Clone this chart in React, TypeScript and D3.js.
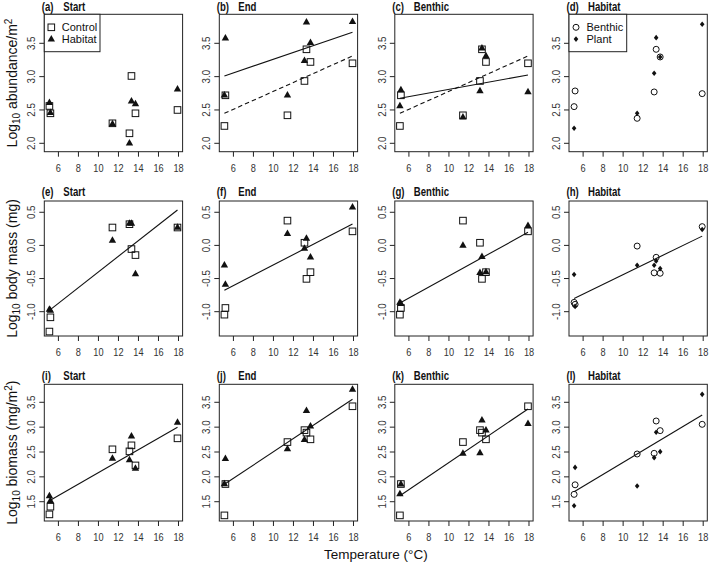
import React from 'react';
import * as d3 from 'd3';

// ---------- data ----------
const temps = [5.1, 5.2, 11.4, 13.1, 13.3, 13.7, 17.9];
const xTicks = [6, 8, 10, 12, 14, 16, 18];
const yTicksAbund = [2.0, 2.5, 3.0, 3.5];
const yTicksMass = [-1.0, -0.5, 0.0, 0.5];
const yTicksBio = [1.5, 2.0, 2.5, 3.0, 3.5];

// abundance (row 1)
const abStartControl = [2.56, 2.45, 2.30, 2.15, 3.01, 2.45, 2.50];
const abStartHabitat = [2.61, 2.46, 2.29, 2.00, 2.63, 2.59, 2.81];
const abEndControl = [2.26, 2.72, 2.42, 2.935, 3.41, 3.22, 3.20];
const abEndHabitat = [2.72, 3.575, 2.72, 3.24, 3.815, 3.51, 3.825];
const abBenControl = [2.26, 2.72, 2.42, 2.935, 3.41, 3.22, 3.20];
const abBenHabitat = [2.56, 2.80, 2.39, 2.785, 3.425, 3.31, 2.77];
const abHabBenthic = [2.55, 2.785, 2.375, 2.77, 3.41, 3.295, 2.745];
const abHabPlant = [2.225, null, 2.45, 3.05, 3.585, 3.295, 3.785];
const abEndFitHabitat = [3.01, 3.665];
const abEndFitControl = [2.45, 3.31];
const abBenFitHabitat = [2.675, 3.025];
const abBenFitControl = [2.45, 3.31];

// body mass (row 2)
const bmStartControl = [-1.30, -1.085, 0.27, 0.32, -0.055, -0.146, 0.27];
const bmStartHabitat = [-0.965, -0.98, 0.076, 0.33, 0.33, -0.43, 0.27];
const bmEndControl = [-1.045, -0.944, 0.374, 0.04, -0.505, -0.404, 0.212];
const bmEndHabitat = [-0.30, -0.59, 0.177, -0.045, 0.106, -0.177, 0.576];
const bmBenControl = [-1.045, -0.944, 0.374, 0.04, -0.505, -0.404, 0.212];
const bmBenHabitat = [-0.86, -0.88, 0.0, -0.41, -0.17, -0.40, 0.298];
const bmHabBenthic = [-0.86, -0.89, -0.01, -0.414, -0.18, -0.42, 0.283];
const bmHabPlant = [-0.44, -0.92, -0.30, -0.30, -0.236, -0.35, 0.24];
const bmStartFit = [-0.98, 0.535];
const bmEndFit = [-0.677, 0.323];
const bmBenFit = [-0.869, 0.197];
const bmHabFit = [-0.80, 0.14];

// biomass (row 3)
const bioStartControl = [1.245, 1.40, 2.554, 2.513, 2.634, 2.23, 2.775];
const bioStartHabitat = [1.614, 1.52, 2.37, 2.34, 2.82, 2.17, 3.097];
const bioEndControl = [1.225, 1.856, 2.70, 2.94, 2.89, 2.755, 3.42];
const bioEndHabitat = [1.856, 2.366, 2.56, 2.75, 3.33, 3.017, 3.76];
const bioBenControl = [1.225, 1.856, 2.70, 2.94, 2.89, 2.755, 3.42];
const bioBenHabitat = [1.655, 1.85, 2.47, 2.48, 3.138, 2.94, 3.07];
const bioHabBenthic = [1.648, 1.84, 2.46, 2.473, 3.124, 2.93, 3.057];
const bioHabPlant = [1.42, 2.19, 1.815, 2.386, 2.896, 2.507, 3.66];
const bioStartFit = [1.52, 3.0];
const bioEndFit = [1.85, 3.56];
const bioBenFit = [1.62, 3.366];
const bioHabFit = [1.70, 3.245];

// ---------- layout ----------
const FONT = '"Liberation Sans", Arial, Helvetica, sans-serif';
const W = 709, H = 562;
const colLeft = [44.3, 219.3, 394.8, 569];
const plotW = 138.3;
const rowTop = [14.3, 201, 384.3];
const rowBottom = [151.7, 336, 521];
const titleBaseline = [10.6, 195.8, 380.2];
const xDomain = [4.59, 18.41];
const yDomains = [[1.874, 3.935], [-1.367, 0.67], [1.112, 3.862]];
const yTicksByRow = [yTicksAbund, yTicksMass, yTicksBio];
const fitX = d3.extent(temps) as [number, number];

type Shape = 'square' | 'triangle' | 'circle' | 'diamond';
interface Series { values: (number | null)[]; shape: Shape }
interface Fit { values: number[]; dashed?: boolean }
interface PanelDef {
  letter: string; title: string; row: number; col: number;
  series: Series[]; fits: Fit[]; legend?: { label: string; shape: Shape }[];
}

const ctrlHab = (c: (number | null)[], h: (number | null)[]): Series[] => [
  { values: c, shape: 'square' }, { values: h, shape: 'triangle' }];
const benPlant = (b: (number | null)[], p: (number | null)[]): Series[] => [
  { values: b, shape: 'circle' }, { values: p, shape: 'diamond' }];

const legendCH = [{ label: 'Control', shape: 'square' as Shape }, { label: 'Habitat', shape: 'triangle' as Shape }];
const legendBP = [{ label: 'Benthic', shape: 'circle' as Shape }, { label: 'Plant', shape: 'diamond' as Shape }];

const panels: PanelDef[] = [
  { letter: '(a)', title: 'Start', row: 0, col: 0, series: ctrlHab(abStartControl, abStartHabitat), fits: [], legend: legendCH },
  { letter: '(b)', title: 'End', row: 0, col: 1, series: ctrlHab(abEndControl, abEndHabitat), fits: [{ values: abEndFitHabitat }, { values: abEndFitControl, dashed: true }] },
  { letter: '(c)', title: 'Benthic', row: 0, col: 2, series: ctrlHab(abBenControl, abBenHabitat), fits: [{ values: abBenFitHabitat }, { values: abBenFitControl, dashed: true }] },
  { letter: '(d)', title: 'Habitat', row: 0, col: 3, series: benPlant(abHabBenthic, abHabPlant), fits: [], legend: legendBP },
  { letter: '(e)', title: 'Start', row: 1, col: 0, series: ctrlHab(bmStartControl, bmStartHabitat), fits: [{ values: bmStartFit }] },
  { letter: '(f)', title: 'End', row: 1, col: 1, series: ctrlHab(bmEndControl, bmEndHabitat), fits: [{ values: bmEndFit }] },
  { letter: '(g)', title: 'Benthic', row: 1, col: 2, series: ctrlHab(bmBenControl, bmBenHabitat), fits: [{ values: bmBenFit }] },
  { letter: '(h)', title: 'Habitat', row: 1, col: 3, series: benPlant(bmHabBenthic, bmHabPlant), fits: [{ values: bmHabFit }] },
  { letter: '(i)', title: 'Start', row: 2, col: 0, series: ctrlHab(bioStartControl, bioStartHabitat), fits: [{ values: bioStartFit }] },
  { letter: '(j)', title: 'End', row: 2, col: 1, series: ctrlHab(bioEndControl, bioEndHabitat), fits: [{ values: bioEndFit }] },
  { letter: '(k)', title: 'Benthic', row: 2, col: 2, series: ctrlHab(bioBenControl, bioBenHabitat), fits: [{ values: bioBenFit }] },
  { letter: '(l)', title: 'Habitat', row: 2, col: 3, series: benPlant(bioHabBenthic, bioHabPlant), fits: [{ values: bioHabFit }] },
];

function Marker({ shape, x, y }: { shape: Shape; x: number; y: number }) {
  switch (shape) {
    case 'square':
      return <rect x={x - 3.3} y={y - 3.3} width={6.6} height={6.6} fill="none" stroke="#111" strokeWidth={1} />;
    case 'triangle':
      return <path d={`M${x},${y - 4.2}L${x + 3.7},${y + 2.3}L${x - 3.7},${y + 2.3}Z`} fill="#111" />;
    case 'circle':
      return <circle cx={x} cy={y} r={3.0} fill="none" stroke="#111" strokeWidth={1} />;
    case 'diamond':
      return <path d={`M${x},${y - 2.8}L${x + 2.3},${y}L${x},${y + 2.8}L${x - 2.3},${y}Z`} fill="#111" />;
  }
  return null;
}

function Panel({ p }: { p: PanelDef }) {
  const left = colLeft[p.col];
  const top = rowTop[p.row];
  const bottom = rowBottom[p.row];
  const tb = titleBaseline[p.row];
  const x = d3.scaleLinear().domain(xDomain).range([left, left + plotW]);
  const y = d3.scaleLinear().domain(yDomains[p.row]).range([bottom, top]);
  const yTicks = yTicksByRow[p.row];
  const line = d3.line<[number, number]>().x(d => x(d[0])).y(d => y(d[1]));
  return (
    <g>
      {/* title */}
      <text transform={`translate(${left - 2.5},${tb}) scale(0.8,1)`} fontFamily={FONT} fontWeight="bold" fontSize={12} fill="#111">{p.letter}</text>
      <text transform={`translate(${left + 19},${tb}) scale(0.8,1)`} fontFamily={FONT} fontWeight="bold" fontSize={12} fill="#111">{p.title}</text>
      {/* box */}
      <rect x={left} y={top} width={plotW} height={bottom - top} fill="none" stroke="#222" strokeWidth={1} />
      {/* x axis */}
      {xTicks.map(t => (
        <g key={'x' + t}>
          <line x1={x(t)} x2={x(t)} y1={bottom} y2={bottom + 5} stroke="#222" />
          <text transform={`translate(${x(t)},${bottom + 20}) scale(0.8,1)`} textAnchor="middle" fontFamily={FONT} fontSize={11.5} fill="#333">{t}</text>
        </g>
      ))}
      {/* y axis */}
      {yTicks.map(t => (
        <g key={'y' + t}>
          <line x1={left - 5} x2={left} y1={y(t)} y2={y(t)} stroke="#222" />
          <text transform={`translate(${left - 9},${y(t)}) rotate(-90) scale(0.85,1)`} textAnchor="middle" fontFamily={FONT} fontSize={11.5} fill="#333">{t.toFixed(1)}</text>
        </g>
      ))}
      {/* fits */}
      {p.fits.map((f, i) => (
        <path key={'f' + i} d={line([[fitX[0], f.values[0]], [fitX[1], f.values[1]]]) || ''} fill="none" stroke="#111" strokeWidth={1.1} strokeDasharray={f.dashed ? '4.5,3' : undefined} />
      ))}
      {/* points */}
      {p.series.map((s, si) => (
        <g key={'s' + si}>
          {s.values.map((v, i) => v == null ? null : <Marker key={i} shape={s.shape} x={x(temps[i])} y={y(v)} />)}
        </g>
      ))}
      {/* legend */}
      {p.legend && (
        <g>
          <rect x={left} y={top} width={p.col === 0 ? 55.7 : 57.7} height={37.4} fill="white" stroke="#222" strokeWidth={1} />
          {p.legend.map((e, i) => (
            <g key={e.label}>
              <Marker shape={e.shape} x={left + 7} y={top + 13 + i * 11.8} />
              <text x={left + 17.5} y={top + 17 + i * 11.8} fontFamily={FONT} fontSize={11} fill="#111">{e.label}</text>
            </g>
          ))}
        </g>
      )}
    </g>
  );
}

const yTitles = [
  { main: 'Log', sub: '10', rest: ' abundance/m', sup: '2', tail: '' },
  { main: 'Log', sub: '10', rest: ' body mass (mg)', sup: '', tail: '' },
  { main: 'Log', sub: '10', rest: ' biomass (mg/m', sup: '2', tail: ')' },
];

export default function App() {
  return (
    <svg width={W} height={H} viewBox={`0 0 ${W} ${H}`} style={{ position: 'absolute', left: 0, top: 0, background: 'white' }}>
      <rect x={0} y={0} width={W} height={H} fill="white" />
      {panels.map(p => <Panel key={p.letter} p={p} />)}
      {yTitles.map((t, r) => {
        const cy = (rowTop[r] + rowBottom[r]) / 2;
        return (
          <text key={r} transform={`translate(16.5,${cy}) rotate(-90)`} textAnchor="middle" fontFamily={FONT} fontSize={14} fill="#111">
            {t.main}
            <tspan fontSize={10} dy={3.5}>{t.sub}</tspan>
            <tspan dy={-3.5}>{t.rest}</tspan>
            {t.sup && <tspan fontSize={10} dy={-5}>{t.sup}</tspan>}
            {t.sup && <tspan dy={5}>{t.tail}</tspan>}
          </text>
        );
      })}
      <text x={(colLeft[0] + colLeft[3] + plotW) / 2} y={559} textAnchor="middle" fontFamily={FONT} fontSize={13.5} fill="#111">Temperature (°C)</text>
    </svg>
  );
}
